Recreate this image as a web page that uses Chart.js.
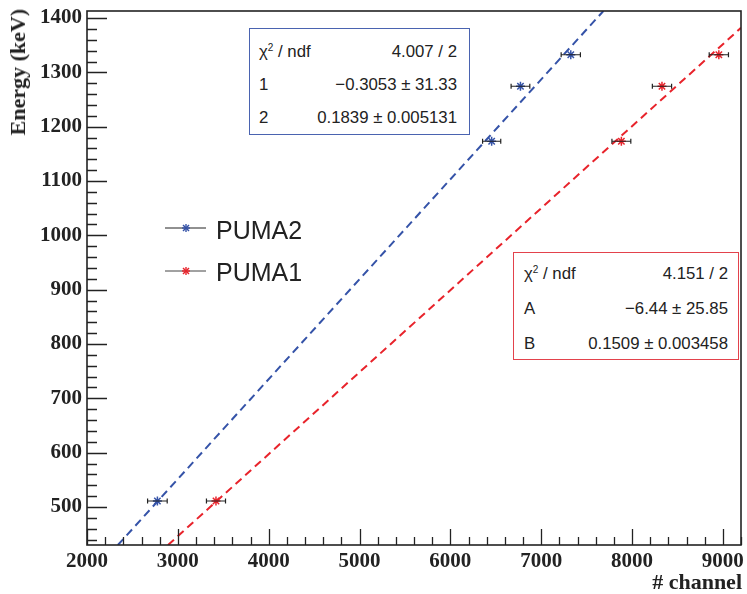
<!DOCTYPE html>
<html>
<head>
<meta charset="utf-8">
<script src="https://cdn.jsdelivr.net/npm/chart.js@4/dist/chart.umd.min.js"></script>
<style>
  html, body { margin: 0; padding: 0; background: #fff; }
  #wrap { position: relative; width: 747px; height: 594px; overflow: hidden; }
  canvas { position: absolute; left: 0; top: 0; }
  .stat { position: absolute; background: #fff; font-family: "Liberation Sans", Arial, sans-serif; font-size: 16.8px; color: #222; }
  .row { position: absolute; line-height: 20px; height: 20px; white-space: nowrap; }
  .row .l { position: absolute; left: 0; }
  .row .r { position: absolute; right: 0; }
  sup { font-size: 10px; vertical-align: 6px; line-height: 0; }
  .title { position: absolute; font-family: "Liberation Serif", "Times New Roman", serif; font-weight: bold; font-size: 22px; color: #222; line-height: 24px; white-space: nowrap; }
  .leg { position: absolute; font-family: "Liberation Sans", Arial, sans-serif; font-size: 25px; color: #222; line-height: 30px; white-space: nowrap; }
</style>
</head>
<body>
<div id="wrap">
  <canvas id="c" width="747" height="594"></canvas>

  <div class="title" style="left:6px; top:9px; writing-mode: vertical-rl; transform: rotate(180deg);">Energy (keV)</div>
  <div class="title" style="right:5px; top:570px;"># channel</div>

  <div class="stat" style="left:249px; top:28px; width:219px; height:105px; border:1px solid #4a63b0;">
    <div class="row" style="left:9px; right:12px; top:13px;"><span class="l">χ<sup>2</sup> / ndf</span><span class="r">4.007 / 2</span></div>
    <div class="row" style="left:9px; right:12px; top:46px;"><span class="l">1</span><span class="r">−0.3053 ± 31.33</span></div>
    <div class="row" style="left:9px; right:12px; top:79px;"><span class="l">2</span><span class="r">0.1839 ± 0.005131</span></div>
  </div>

  <div class="stat" style="left:513px; top:252px; width:224px; height:106px; border:1px solid #e3424c;">
    <div class="row" style="left:10px; right:10px; top:11px;"><span class="l">χ<sup>2</sup> / ndf</span><span class="r">4.151 / 2</span></div>
    <div class="row" style="left:10px; right:10px; top:46px;"><span class="l">A</span><span class="r">−6.44 ± 25.85</span></div>
    <div class="row" style="left:10px; right:10px; top:81px;"><span class="l">B</span><span class="r">0.1509 ± 0.003458</span></div>
  </div>

  <svg style="position:absolute; left:160px; top:215px;" width="50" height="70">
    <line x1="5" y1="13" x2="46" y2="13" stroke="#222" stroke-width="1"/>
    <g stroke="#3553a8" stroke-width="1.4">
      <line x1="22" y1="13" x2="30" y2="13"/><line x1="26" y1="9" x2="26" y2="17"/>
      <line x1="23" y1="10" x2="29" y2="16"/><line x1="29" y1="10" x2="23" y2="16"/>
    </g>
    <line x1="5" y1="56" x2="46" y2="56" stroke="#444" stroke-width="1"/>
    <g stroke="#e8232b" stroke-width="1.4">
      <line x1="22" y1="56" x2="30" y2="56"/><line x1="26" y1="52" x2="26" y2="60"/>
      <line x1="23" y1="53" x2="29" y2="59"/><line x1="29" y1="53" x2="23" y2="59"/>
    </g>
  </svg>
  <div class="leg" style="left:216px; top:215px;">PUMA2</div>
  <div class="leg" style="left:216px; top:257px;">PUMA1</div>
</div>

<script>
// ---- data ----
const energies      = [511, 1173.2, 1274.5, 1332.5];
const puma2Channel  = [2775, 6455, 6772, 7326];
const puma2ChErr    = [108, 100, 103, 106];
const puma1Channel  = [3420, 7883, 8330, 8956];
const puma1ChErr    = [105, 104, 106, 106];
// fit line end points (PUMA2: E = -0.3053 + 0.1839 ch, PUMA1: E = -6.44 + 0.1509 ch)
const puma2FitX = [2340, 7685];
const puma2FitY = [430, 1413];
const puma1FitX = [2892, 9200];
const puma1FitY = [430, 1382];
// axes
const xTicks = [2000, 3000, 4000, 5000, 6000, 7000, 8000, 9000];
const yTicks = [500, 600, 700, 800, 900, 1000, 1100, 1200, 1300, 1400];
const xRange = [2000, 9200];
const yRange = [430, 1413];
const xMinorStep = 200;
const yMinorStep = 20;

const BLUE = '#3553a8';
const RED = '#e8232b';

function pts(xs, ys) { return xs.map((x, i) => ({ x: x, y: ys[i] })); }

const errorBars = {
  id: 'errorBars',
  afterDatasetsDraw(chart) {
    const ctx = chart.ctx, xs = chart.scales.x, ys = chart.scales.y;
    ctx.save();
    ctx.strokeStyle = '#222';
    ctx.lineWidth = 1.2;
    chart.data.datasets.forEach(ds => {
      if (!ds.xErr) return;
      ds.data.forEach((p, i) => {
        const y = ys.getPixelForValue(p.y);
        const x1 = xs.getPixelForValue(p.x - ds.xErr[i]);
        const x2 = xs.getPixelForValue(p.x + ds.xErr[i]);
        ctx.beginPath();
        ctx.moveTo(x1, y); ctx.lineTo(x2, y);
        ctx.moveTo(x1, y - 2.5); ctx.lineTo(x1, y + 2.5);
        ctx.moveTo(x2, y - 2.5); ctx.lineTo(x2, y + 2.5);
        ctx.stroke();
      });
    });
    ctx.restore();
  }
};

const frameTicks = {
  id: 'frameTicks',
  afterDraw(chart) {
    const ctx = chart.ctx, a = chart.chartArea, xs = chart.scales.x, ys = chart.scales.y;
    ctx.save();
    ctx.strokeStyle = '#222';
    ctx.lineWidth = 1.3;
    ctx.beginPath();
    for (let v = xRange[0]; v <= xRange[1] + 1e-6; v += xMinorStep) {
      const px = Math.round(xs.getPixelForValue(v)) + 0.5;
      const major = xTicks.includes(v);
      ctx.moveTo(px, a.bottom); ctx.lineTo(px, a.bottom - (major ? 16 : 8));
    }
    const y0 = Math.ceil(yRange[0] / yMinorStep) * yMinorStep;
    for (let v = y0; v <= yRange[1] + 1e-6; v += yMinorStep) {
      const py = Math.round(ys.getPixelForValue(v)) + 0.5;
      const major = yTicks.includes(v);
      ctx.moveTo(a.left, py); ctx.lineTo(a.left + (major ? 20 : 10), py);
    }
    ctx.stroke();
    ctx.lineWidth = 1.6;
    ctx.strokeRect(a.left, a.top, a.right - a.left, a.bottom - a.top);
    ctx.restore();
  }
};

const tickFont = { family: '"Liberation Serif", "Times New Roman", serif', size: 21, weight: 'bold' };

new Chart(document.getElementById('c'), {
  type: 'scatter',
  data: {
    datasets: [
      { label: 'PUMA2 fit', data: pts(puma2FitX, puma2FitY), showLine: true, borderColor: BLUE,
        borderWidth: 2, borderDash: [8, 5], pointRadius: 0, order: 2 },
      { label: 'PUMA1 fit', data: pts(puma1FitX, puma1FitY), showLine: true, borderColor: RED,
        borderWidth: 2, borderDash: [8, 5], pointRadius: 0, order: 2 },
      { label: 'PUMA2', data: pts(puma2Channel, energies), xErr: puma2ChErr, pointStyle: 'star',
        pointRadius: 4.5, borderColor: BLUE, backgroundColor: BLUE, borderWidth: 1.5, order: 1 },
      { label: 'PUMA1', data: pts(puma1Channel, energies), xErr: puma1ChErr, pointStyle: 'star',
        pointRadius: 4.5, borderColor: RED, backgroundColor: RED, borderWidth: 1.5, order: 1 }
    ]
  },
  options: {
    responsive: false,
    animation: false,
    layout: { padding: { top: 11, right: 4, left: 0, bottom: 0 } },
    plugins: { legend: { display: false }, tooltip: { enabled: false } },
    scales: {
      x: {
        type: 'linear', min: xRange[0], max: xRange[1],
        grid: { display: false, drawTicks: false }, border: { display: false },
        afterBuildTicks: s => { s.ticks = xTicks.map(v => ({ value: v })); },
        afterFit: s => { s.height = 49; s.paddingLeft = 0; s.paddingRight = 0; },
        ticks: { padding: 4, maxRotation: 0, autoSkip: false, color: '#222', font: tickFont,
          callback: v => String(v) }
      },
      y: {
        type: 'linear', min: yRange[0], max: yRange[1],
        grid: { display: false, drawTicks: false }, border: { display: false },
        afterBuildTicks: s => { s.ticks = yTicks.map(v => ({ value: v })); },
        afterFit: s => { s.width = 87; s.paddingTop = 0; s.paddingBottom = 0; },
        ticks: { padding: 5, autoSkip: false, color: '#222', font: tickFont,
          callback: v => String(v) }
      }
    }
  },
  plugins: [errorBars, frameTicks]
});
</script>
</body>
</html>
